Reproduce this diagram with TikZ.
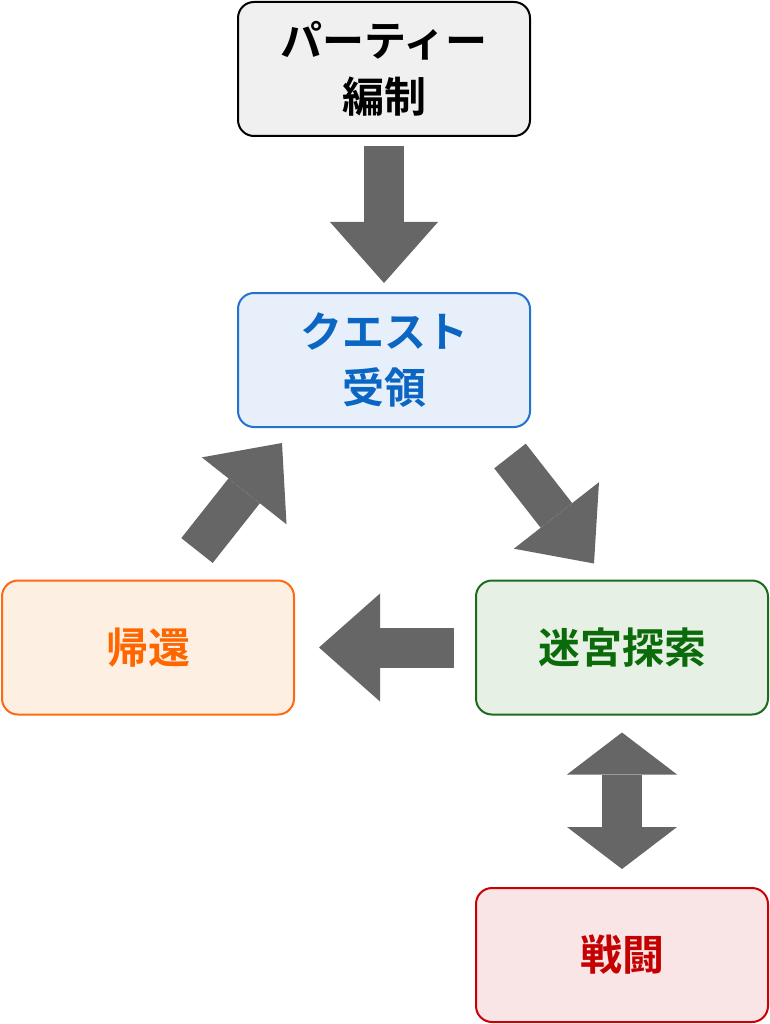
\documentclass[tikz,border=0pt]{standalone}
\usepackage{fontspec}
\usepackage{xcolor}
\usepackage{tikz}
\usetikzlibrary{arrows.meta, calc}
\newfontfamily\jpfont{Noto Sans CJK JP}[BoldFont={Noto Sans CJK JP Bold}]
\definecolor{flowgray}{HTML}{666666}
\definecolor{partyfill}{HTML}{F0F0F0}
\definecolor{questline}{HTML}{2272D0}
\definecolor{questfill}{HTML}{E6EFFA}
\definecolor{questtext}{HTML}{0A66C2}
\definecolor{returnline}{HTML}{FF6A10}
\definecolor{returnfill}{HTML}{FEEFE3}
\definecolor{returntext}{HTML}{FF6600}
\definecolor{mazeline}{HTML}{1E6B1E}
\definecolor{mazefill}{HTML}{E6F0E4}
\definecolor{mazetext}{HTML}{0B6B0B}
\definecolor{battleline}{HTML}{CC0000}
\definecolor{battlefill}{HTML}{F9E4E6}
\definecolor{battletext}{HTML}{C40000}

\begin{document}
\begin{tikzpicture}[x=1pt, y=-1pt,
    phase/.style={draw, line width=2pt, rounded corners=16pt, minimum width=292pt, minimum height=134pt,
      align=center, font=\jpfont\bfseries\fontsize{42pt}{56pt}\selectfont},
    bigarrow/.style={draw=flowgray, line width=40pt, -{Triangle[length=61pt,width=108pt,line width=0pt]}},
    bothways/.style={draw=flowgray, line width=40pt,
      {Triangle[length=42pt,width=110pt,line width=0pt]}-{Triangle[length=42pt,width=110pt,line width=0pt]}}]
        \useasboundingbox (0,0) rectangle (770,1024);
        % phases
        \node[phase, draw=black, fill=partyfill, text=black] (party) at (384,69) {パーティー\\編制};
        \node[phase, draw=questline, fill=questfill, text=questtext] (quest) at (384,360) {クエスト\\受領};
        \node[phase, draw=returnline, fill=returnfill, text=returntext] (back) at (148,647.5) {帰還};
        \node[phase, draw=mazeline, fill=mazefill, text=mazetext] (maze) at (622,647.5) {迷宮探索};
        \node[phase, draw=battleline, fill=battlefill, text=battletext] (battle) at (622,955) {戦闘};
        % arrow ends for the slanted arrows
        \coordinate (questout) at ($(quest.south)+(126,28)$);
        \coordinate (mazein) at ($(maze.north)+(-28,-16)$);
        \coordinate (backout) at ($(back.north)+(49,-29)$);
        \coordinate (questin) at ($(quest.south)+(-102,15)$);
        % loop
        \draw[bigarrow, shorten <=9pt, shorten >=9pt] (party.south) -- (quest.north);
        \draw[bigarrow] (questout) -- (mazein);
        \draw[bigarrow, shorten <=21pt, shorten >=24pt] (maze.west) -- (back.east);
        \draw[bigarrow] (backout) -- (questin);
        \draw[bothways, shorten <=17pt, shorten >=18pt] (maze.south) -- (battle.north);
      \end{tikzpicture}
\end{document}
